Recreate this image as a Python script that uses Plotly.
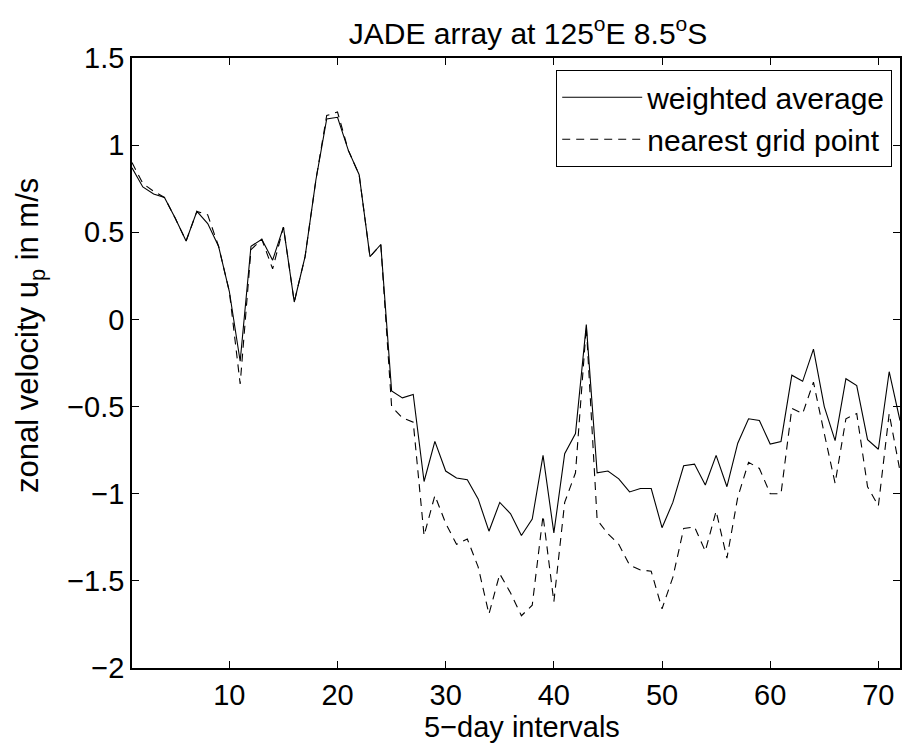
import plotly.graph_objects as go

intervals = list(range(1, 73))

weighted_average = [
    0.87, 0.76, 0.72, 0.70, 0.58, 0.45, 0.62, 0.55, 0.42, 0.16,
    -0.24, 0.42, 0.46, 0.34, 0.53, 0.10, 0.36, 0.80, 1.15, 1.16,
    0.97, 0.83, 0.36, 0.43, -0.41, -0.45, -0.43, -0.93, -0.70, -0.87,
    -0.91, -0.92, -1.03, -1.215, -1.05, -1.115, -1.24, -1.145, -0.78, -1.225,
    -0.77, -0.655, -0.03, -0.88, -0.87, -0.915, -0.99, -0.97, -0.97, -1.195,
    -1.05, -0.84, -0.83, -0.95, -0.78, -0.96, -0.71, -0.57, -0.58, -0.715,
    -0.70, -0.32, -0.355, -0.17, -0.50, -0.695, -0.34, -0.38, -0.69, -0.745,
    -0.30, -0.58,
]

nearest_grid_point = [
    0.90, 0.78, 0.735, 0.70, 0.58, 0.45, 0.62, 0.60, 0.42, 0.16,
    -0.37, 0.40, 0.46, 0.29, 0.53, 0.10, 0.36, 0.80, 1.17, 1.19,
    0.97, 0.83, 0.36, 0.43, -0.50, -0.565, -0.59, -1.24, -1.01, -1.17,
    -1.29, -1.26, -1.42, -1.69, -1.46, -1.57, -1.70, -1.64, -1.125, -1.62,
    -1.05, -0.88, -0.04, -1.15, -1.23, -1.29, -1.41, -1.437, -1.445, -1.66,
    -1.48, -1.20, -1.19, -1.33, -1.10, -1.37, -1.02, -0.82, -0.855, -1.00,
    -1.00, -0.51, -0.54, -0.36, -0.655, -0.94, -0.57, -0.54, -0.96, -1.07,
    -0.54, -0.87,
]

y_ticks = [-2, -1.5, -1, -0.5, 0, 0.5, 1, 1.5]
y_tick_labels = ["\u22122", "\u22121.5", "\u22121", "\u22120.5", "0", "0.5", "1", "1.5"]
x_ticks = [10, 20, 30, 40, 50, 60, 70]

FONT = "Liberation Sans, Arial, Helvetica, sans-serif"
FS = 30
FS_AX = 29

fig = go.Figure()
fig.add_trace(go.Scatter(
    x=intervals, y=weighted_average, mode="lines", name="weighted average",
    line=dict(color="black", width=1.1),
))
fig.add_trace(go.Scatter(
    x=intervals, y=nearest_grid_point, mode="lines", name="nearest grid point",
    line=dict(color="black", width=1.1, dash="8px,6px"),
))

axis_common = dict(
    showgrid=False, zeroline=False, showline=True, linecolor="black", linewidth=1.5,
    mirror="ticks", ticks="inside", ticklen=7, tickwidth=1, tickcolor="black",
    tickfont=dict(family=FONT, size=FS_AX, color="black"),
)

fig.update_layout(
    width=902, height=744,
    paper_bgcolor="white", plot_bgcolor="white",
    margin=dict(l=132, r=2, t=58, b=76, autoexpand=False),
    title=dict(
        text="JADE array at 125<sup>o</sup>E 8.5<sup>o</sup>S",
        x=528 / 902, xanchor="center", y=1 - 33 / 744, yanchor="middle",
        font=dict(family=FONT, size=FS, color="black"),
    ),
    xaxis=dict(range=[1, 72], tickvals=x_ticks, ticktext=[str(v) for v in x_ticks],
               **axis_common),
    yaxis=dict(range=[-2, 1.5], tickvals=y_ticks, ticktext=y_tick_labels,
               **axis_common),
    annotations=[
        dict(
            text="zonal velocity u<sub>p</sub> in m/s", textangle=-90,
            xref="paper", yref="paper", x=(30 - 132) / 768, y=(668 - 336) / 610,
            xanchor="center", yanchor="middle", showarrow=False,
            font=dict(family=FONT, size=31, color="black"),
        ),
        dict(
            text="5\u2212day intervals",
            xref="paper", yref="paper", x=(522 - 132) / 768, y=(668 - 709) / 610,
            xanchor="center", yanchor="top", showarrow=False,
            font=dict(family=FONT, size=FS_AX, color="black"),
        ),
    ],
    legend=dict(
        x=(892 - 132) / 768, xanchor="right", y=(668 - 70) / 610, yanchor="top",
        bgcolor="white", bordercolor="black", borderwidth=1.2,
        font=dict(family=FONT, size=FS, color="black"),
        itemwidth=80,
    ),
    showlegend=True,
)

fig.write_html("out.html")
